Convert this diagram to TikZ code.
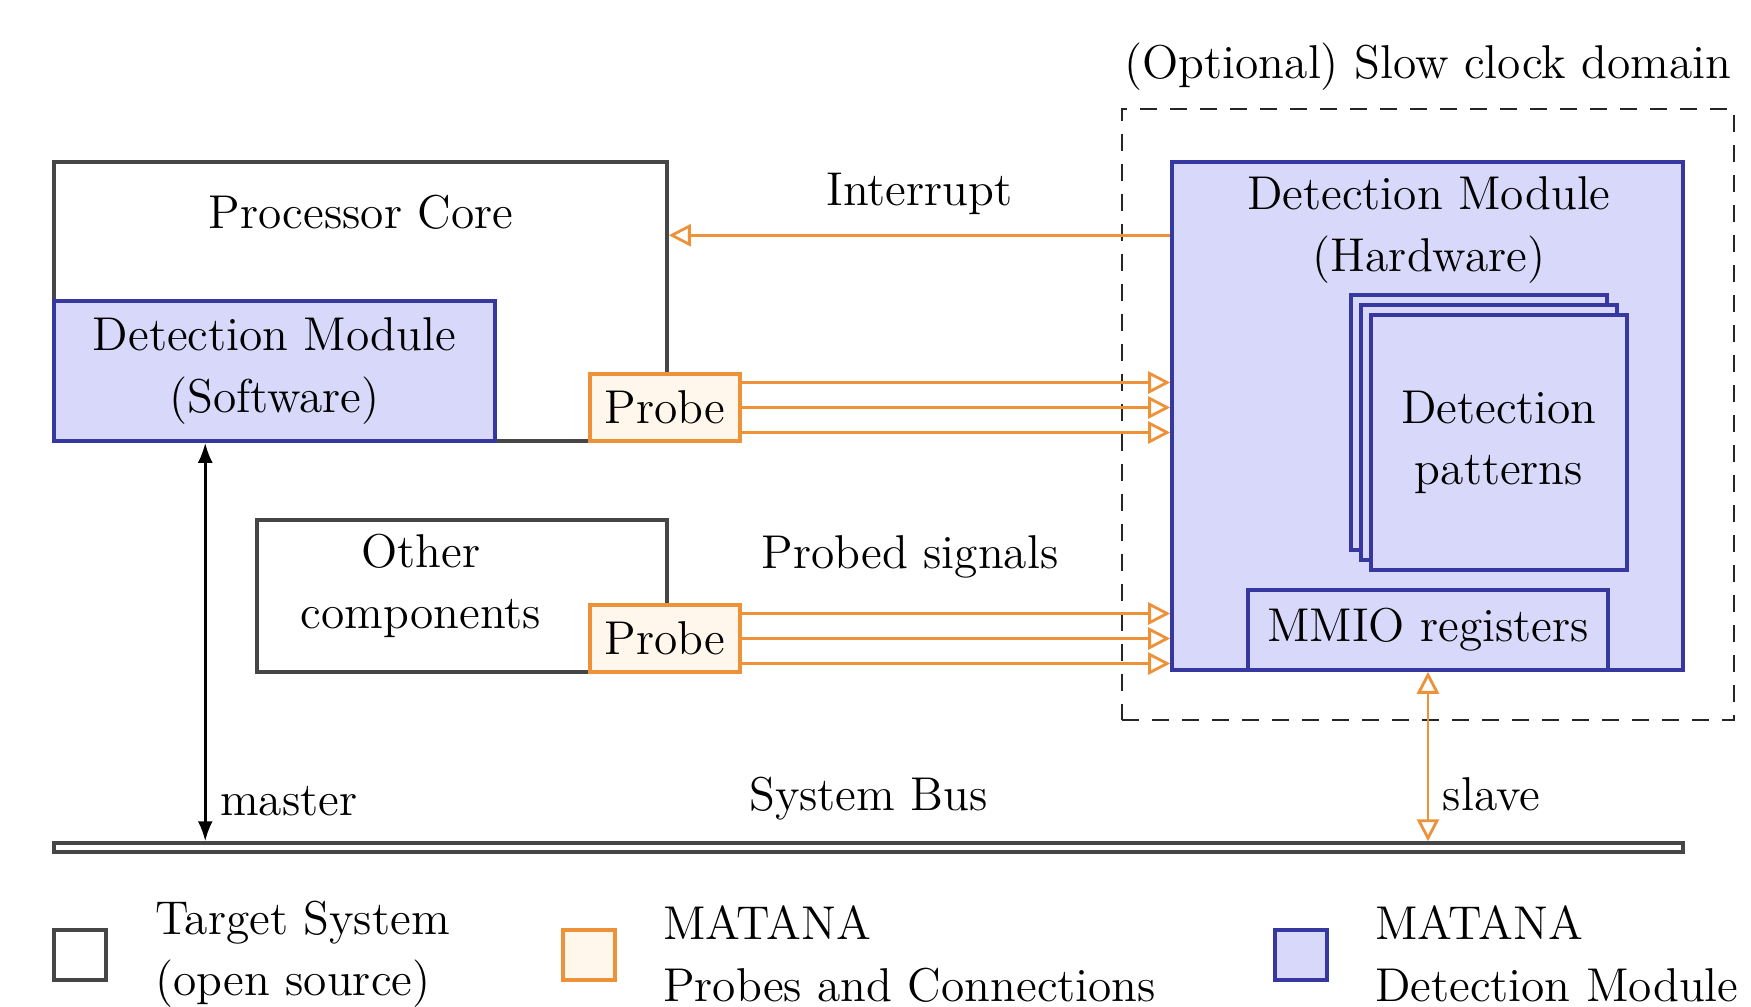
\documentclass[tikz,border=0pt]{standalone}
\usepackage{fontspec}
\usetikzlibrary{positioning, arrows.meta, shadows, calc}
\definecolor{probeorange}{RGB}{238,146,58}
\definecolor{probefill}{RGB}{255,246,236}
\definecolor{detblue}{RGB}{55,55,160}
\definecolor{detfill}{RGB}{216,216,250}
\definecolor{targetgray}{RGB}{70,70,70}
\newcommand\figfont{\fontsize{13.5}{17.5}\selectfont}

\begin{document}
\begin{tikzpicture}[
    txt/.style={align=center, font=\figfont, inner sep=1pt},
    target/.style={rectangle, draw=targetgray, fill=white, line width=1pt},
    probe/.style={rectangle, draw=probeorange, fill=probefill, line width=1pt, font=\figfont, minimum width=1.5cm, minimum height=0.67cm},
    detect/.style={rectangle, draw=detblue, fill=detfill, line width=1pt, align=center, font=\figfont},
    sigarrow/.style={draw=probeorange, line width=0.8pt, -{Triangle[open, length=2.2mm, width=2.2mm]}},
    legendbox/.style={rectangle, line width=1pt, minimum width=0.52cm, minimum height=0.5cm},
]
\useasboundingbox (0,0) rectangle (17.51,-10.07);

% Nodes
\node[rectangle, draw=black!85, dash pattern=on 1.7mm off 1.3mm, line width=0.8pt, minimum width=6.12cm, minimum height=6.11cm] (slowdomain) at (14.28,-4.145) {};
\node[txt, above=0.13cm of slowdomain] (slowlabel) {(Optional) Slow clock domain};

\node[target, minimum width=6.13cm, minimum height=2.79cm] (core) at (3.605,-3.015) {};
\node[txt] (coretitle) at (3.61,-2.12) {Processor Core};
\node[detect, anchor=south west, minimum width=4.41cm, minimum height=1.40cm] (swdet) at (core.south west) {Detection Module\\(Software)};
\node[probe] (probeA) at (6.65,-4.075) {Probe};

\node[target, minimum width=4.10cm, minimum height=1.52cm] (other) at (4.62,-5.96) {};
\node[txt] (othertitle) at (4.21,-5.86) {Other\\components};
\node[probe] (probeB) at (6.65,-6.385) {Probe};

\node[detect, minimum width=5.11cm, minimum height=5.08cm] (hwdet) at (14.275,-4.16) {};
\node[txt] (hwtitle) at (14.29,-2.30) {Detection Module\\(Hardware)};
\node[detect, minimum width=2.56cm, minimum height=2.55cm, double copy shadow={shadow xshift=-1mm, shadow yshift=1mm}] (patterns) at (14.99,-4.425) {Detection\\patterns};
\node[detect, minimum width=3.60cm, minimum height=0.80cm] (mmio) at (14.28,-6.30) {MMIO registers};

\node[rectangle, draw=targetgray, fill=white, line width=1pt, minimum width=16.29cm, minimum height=0.09cm, inner sep=0pt] (bus) at (8.685,-8.475) {};
\node[txt, above=0.17cm of bus] (buslabel) {System Bus};

% Legend
\node[legendbox, draw=targetgray, fill=white] (legtarget) at (0.80,-9.55) {};
\node[txt, align=left, anchor=west] (legtargettext) at (1.51,-9.54) {Target System\\(open source)};
\node[legendbox, draw=probeorange, fill=probefill] (legprobe) at (5.89,-9.55) {};
\node[txt, align=left, anchor=west] (legprobetext) at (6.59,-9.54) {MATANA\\Probes and Connections};
\node[legendbox, draw=detblue, fill=detfill] (legdet) at (13.01,-9.55) {};
\node[txt, align=left, anchor=west] (legdettext) at (13.71,-9.54) {MATANA\\Detection Module};

% Connections
\draw[sigarrow] ([yshift=-7.5mm]hwdet.north west) -- node[txt, above=0.16cm] (intlabel) {Interrupt} ([yshift=-7.5mm]hwdet.north west -| core.east);
\foreach \d in {0.25,0,-0.25} {
    \draw[sigarrow] ([yshift=\d cm]probeA.east) -- ([yshift=\d cm]probeA.east -| hwdet.west);
    \draw[sigarrow] ([yshift=\d cm]probeB.east) -- ([yshift=\d cm]probeB.east -| hwdet.west);
}
\node[txt] (siglabel) at (9.10,-5.57) {Probed signals};

\draw[line width=0.8pt, {Latex[length=2mm]}-{Latex[length=2mm]}] ([xshift=1.53cm]swdet.south west) -- node[txt, pos=0.9, right=0.1cm] (masterlabel) {master} ([xshift=1.53cm]swdet.south west |- bus.north);
\draw[draw=probeorange, line width=0.8pt, {Triangle[open, length=2.2mm, width=2.2mm]}-{Triangle[open, length=2.2mm, width=2.2mm]}] (mmio.south) -- node[txt, pos=0.72, right=0.1cm] (slavelabel) {slave} (mmio.south |- bus.north);

\end{tikzpicture}
\end{document}
